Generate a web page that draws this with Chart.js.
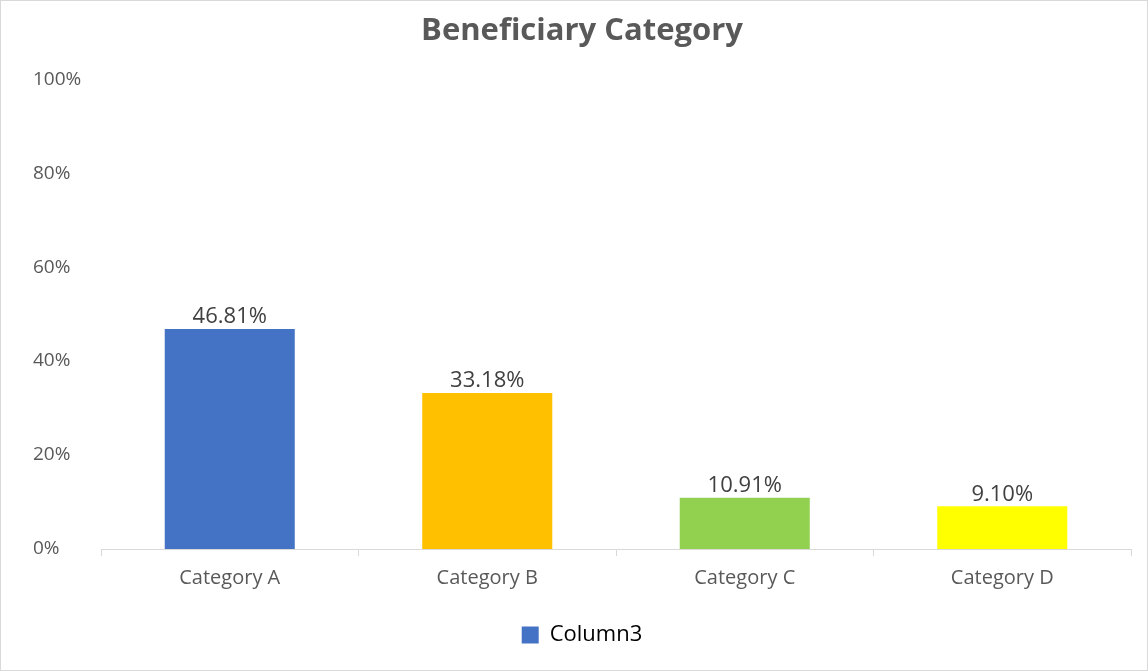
<!DOCTYPE html>
<html>
<head>
<meta charset="utf-8">
<script src="https://cdn.jsdelivr.net/npm/chart.js@4"></script>
<style>
  html, body { margin: 0; padding: 0; background: #fff; }
  #wrap { position: relative; width: 1146px; height: 669px; border: 1px solid #D9D9D9; }
</style>
</head>
<body>
<div id="wrap"><canvas id="c"></canvas></div>
<script>
const categories = ['Category A', 'Category B', 'Category C', 'Category D'];
const values = [46.81, 33.18, 10.91, 9.10];
const valueLabels = ['46.81%', '33.18%', '10.91%', '9.10%'];
const barColors = ['#4472C4', '#FFC000', '#92D050', '#FFFF00'];
const yTicks = [0, 20, 40, 60, 80, 100];
const seriesName = 'Column3';
const titleText = 'Beneficiary Category';

const FONT = "'Open Sans', 'Liberation Sans', sans-serif";

const valueLabelPlugin = {
  id: 'valueLabels',
  afterDatasetsDraw(chart) {
    const ctx = chart.ctx;
    const meta = chart.getDatasetMeta(0);
    ctx.save();
    ctx.font = "22px " + FONT;
    ctx.fillStyle = '#404040';
    ctx.textAlign = 'center';
    ctx.textBaseline = 'bottom';
    meta.data.forEach((bar, i) => {
      ctx.fillText(valueLabels[i], bar.x, bar.y - 1);
    });
    ctx.restore();
  }
};

new Chart(document.getElementById('c'), {
  type: 'bar',
  data: {
    labels: categories,
    datasets: [{
      label: seriesName,
      data: values,
      backgroundColor: barColors,
      borderWidth: 0,
      categoryPercentage: 1.0,
      barPercentage: 0.505
    }]
  },
  options: {
    responsive: true,
    maintainAspectRatio: false,
    animation: false,
    layout: { padding: { left: 32, right: 16, top: 12, bottom: 14 } },
    plugins: {
      title: {
        display: true,
        text: titleText,
        color: '#595959',
        font: { family: FONT, size: 31, weight: 'bold' },
        padding: { top: 0, bottom: 29 }
      },
      legend: {
        position: 'bottom',
        labels: {
          color: '#595959',
          font: { family: FONT, size: 22 },
          boxWidth: 17,
          boxHeight: 17,
          padding: 4,
          generateLabels: () => [{
            text: seriesName,
            fillStyle: barColors[0],
            strokeStyle: barColors[0],
            lineWidth: 0,
            hidden: false,
            datasetIndex: 0
          }]
        }
      },
      tooltip: { enabled: false }
    },
    scales: {
      x: {
        grid: {
          display: true,
          drawOnChartArea: false,
          drawTicks: true,
          tickLength: 7,
          offset: true,
          color: '#D9D9D9'
        },
        border: { display: true, color: '#D9D9D9', width: 1 },
        ticks: {
          color: '#595959',
          font: { family: FONT, size: 20 },
          padding: 10
        },
        afterFit: (axis) => { axis.height += 20; }
      },
      y: {
        min: 0,
        max: 100,
        afterBuildTicks: (axis) => { axis.ticks = yTicks.map(v => ({ value: v })); },
        afterFit: (axis) => { axis.width = 68; },
        grid: { display: false },
        border: { display: false },
        ticks: {
          color: '#595959',
          font: { family: FONT, size: 19 },
          crossAlign: 'far',
          callback: (v) => v + '%'
        }
      }
    }
  },
  plugins: [valueLabelPlugin]
});
</script>
</body>
</html>
